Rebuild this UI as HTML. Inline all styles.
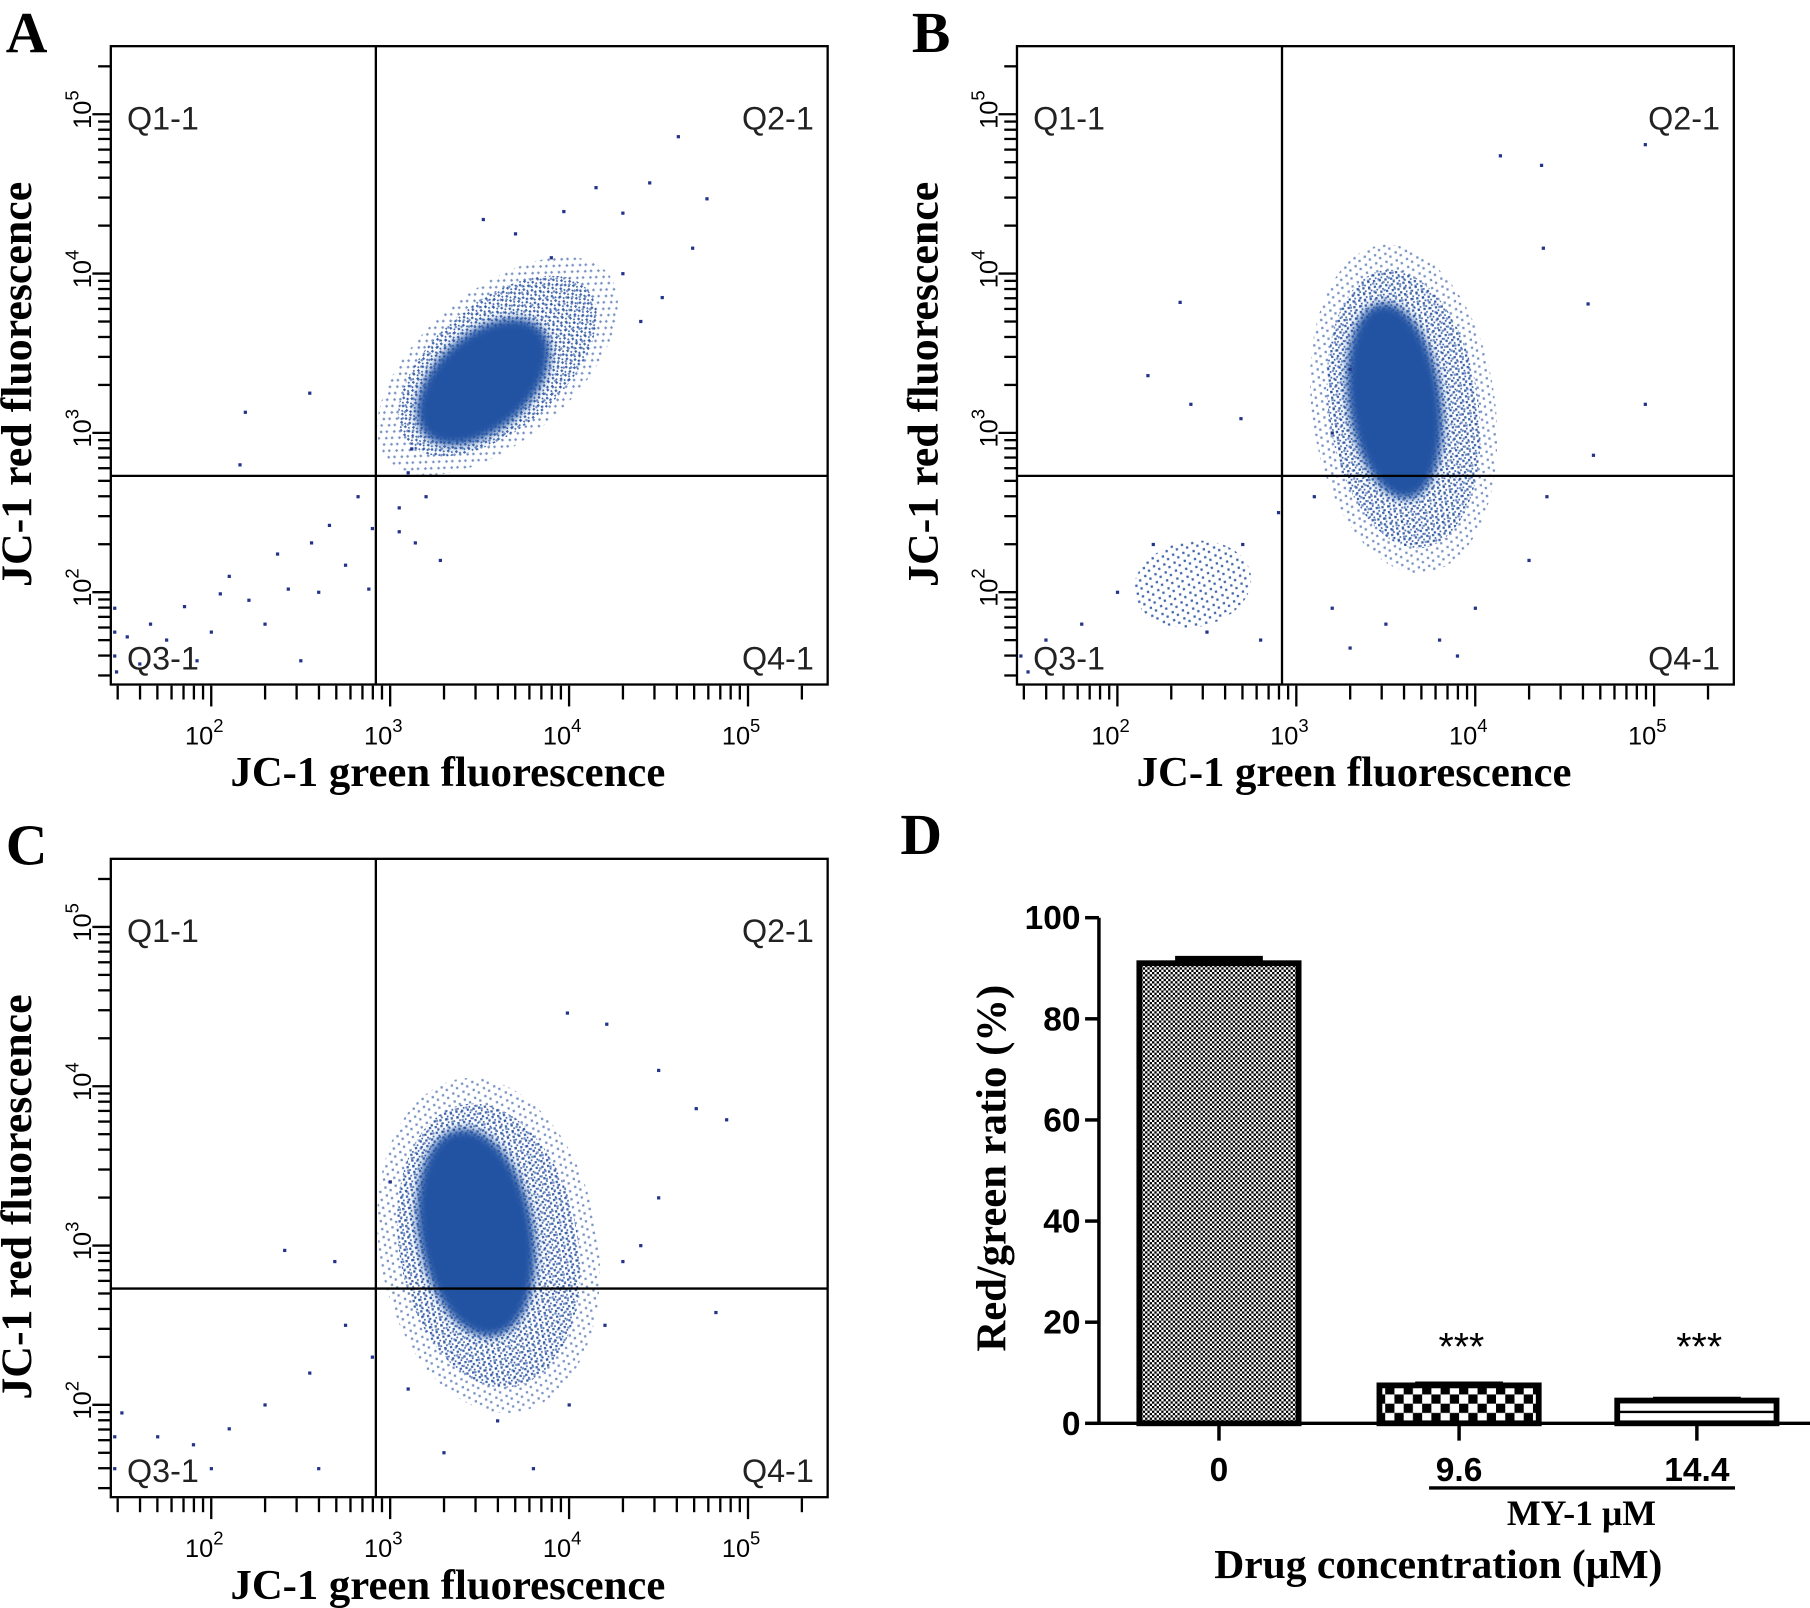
<!DOCTYPE html>
<html><head><meta charset="utf-8"><style>
html,body{margin:0;padding:0;background:#fff;}
svg{display:block;}
.serif{font-family:"Liberation Serif",serif;font-weight:bold;}
.sans{font-family:"Liberation Sans",sans-serif;}
</style></head><body>
<svg id="fig" width="1810" height="1608" viewBox="0 0 1568 1393" preserveAspectRatio="none" xmlns="http://www.w3.org/2000/svg">
<defs>
<pattern id="speck" width="5" height="5" patternUnits="userSpaceOnUse"><rect x="0" y="0" width="2" height="2" fill="#1d4a9c"/><rect x="2" y="3" width="1.5" height="1.5" fill="#1d4a9c"/></pattern>
<pattern id="speck2" width="9" height="7" patternUnits="userSpaceOnUse"><rect x="1" y="1" width="2" height="2" fill="#1d4a9c"/><rect x="5" y="4" width="2" height="2" fill="#1d4a9c"/></pattern>
<pattern id="fineCheck" width="4" height="4" patternUnits="userSpaceOnUse"><rect width="4" height="4" fill="#fff"/><rect width="2" height="2" fill="#000"/><rect x="2" y="2" width="2" height="2" fill="#000"/></pattern>
<pattern id="coarseCheck" width="16" height="16" patternUnits="userSpaceOnUse"><rect width="16" height="16" fill="#fff"/><rect width="8" height="8" fill="#000"/><rect x="8" y="8" width="8" height="8" fill="#000"/></pattern>
<filter id="soft"><feGaussianBlur stdDeviation="4"/></filter>
</defs>
</svg>
<script>
// ---------- Panel D data ----------
const barCategories = ["0", "9.6", "14.4"];
const barValues = [91, 7.5, 4.5];
const barErrors = [1, 0.3, 0.3];
const barSignif = ["", "***", "***"];
const barYTicks = [0, 20, 40, 60, 80, 100];

// ---------- Flow panel data (log10 units) ----------
const panelNames = ["A", "B", "C"];
const decadeTicks = [2, 3, 4, 5];
// cluster: [xLog, yLog, rxDecades, ryDecades, rotationDeg]
const coreA = [3.52, 3.32, 0.44, 0.3, -42];
const haloA = [3.6, 3.42, 0.66, 0.4, -40];
const coreB = [3.55, 3.2, 0.26, 0.62, -8];
const haloB = [3.6, 3.15, 0.42, 0.88, -8];
const lowB = [2.42, 2.05, 0.33, 0.27, -10];
const coreC = [3.48, 3.08, 0.32, 0.66, -10];
const haloC = [3.55, 3.0, 0.5, 0.9, -10];
const sparseA = [[4.61,4.86],[4.45,4.57],[4.15,4.54],[4.77,4.47],[3.97,4.39],[4.30,4.38],[3.52,4.34],[4.69,4.16],[4.52,3.85],[2.19,3.13],[2.16,2.80],[2.56,2.31],[2.75,2.17],[2.43,2.02],[2.21,1.95],[2.05,1.99],[1.85,1.91],[1.66,1.80],[1.53,1.72],[2.30,1.80],[2.50,1.57],[1.92,1.57],[2.88,2.02],[3.05,2.38],[3.14,2.31],[3.05,2.53],[2.82,2.60],[2.37,2.24],[2.66,2.42],[3.2,2.6],[3.28,2.2],[1.46,1.9],[1.46,1.75],[1.46,1.6],[1.47,1.5],[1.6,1.55],[1.75,1.7],[2.0,1.75],[2.1,2.1],[2.6,2.0],[2.9,2.4],[3.1,2.75],[3.12,2.9],[2.55,3.25],[3.7,4.25],[3.9,4.1],[4.3,4.0],[4.4,3.7]];
const sparseB = [[2.35,3.82],[2.17,3.36],[2.41,3.18],[2.69,3.09],[4.14,4.74],[4.37,4.68],[4.95,4.81],[4.95,3.18],[4.63,3.81],[4.38,4.16],[4.66,2.86],[3.3,3.4],[3.2,3.0],[3.1,2.6],[2.9,2.5],[2.7,2.3],[2.2,2.3],[2.0,2.0],[1.8,1.8],[1.6,1.7],[1.46,1.6],[1.5,1.5],[3.2,1.9],[3.5,1.8],[3.8,1.7],[4.0,1.9],[4.3,2.2],[4.4,2.6],[3.9,1.6],[3.3,1.65],[2.8,1.7],[2.5,1.75]];
const sparseC = [[3.99,4.46],[4.21,4.39],[4.71,3.86],[4.88,3.79],[4.50,4.10],[4.82,2.58],[2.41,2.97],[2.69,2.90],[1.5,1.95],[1.7,1.8],[1.9,1.75],[2.1,1.85],[2.3,2.0],[2.55,2.2],[2.75,2.5],[2.9,2.3],[2.0,1.6],[2.6,1.6],[3.1,2.1],[1.46,1.6],[1.46,1.8],[3.3,1.7],[3.6,1.9],[4.0,2.0],[4.2,2.5],[4.4,3.0],[4.5,3.3],[3.0,3.4],[3.8,1.6],[4.3,2.9]];
const quadX = 2.92;
const quadY = 2.73;

const NS = "http://www.w3.org/2000/svg";
const svg = document.getElementById("fig");
function mk(tag, attrs, parent) {
  const e = document.createElementNS(NS, tag);
  for (const k in attrs) e.setAttribute(k, attrs[k]);
  (parent || svg).appendChild(e);
  return e;
}
function fx(l) { return 183 + (l - 2) * 155; }
function fy(l) { return 513 - (l - 2) * 138; }
const offsets = [[0, 0], [785, 0], [0, 704]];
const clusterSets = [[haloA, coreA], [haloB, coreB, lowB], [haloC, coreC]];
const sparseSets = [sparseA, sparseB, sparseC];

panelNames.forEach((nm, pi) => {
  const [ox, oy] = offsets[pi];
  const g = mk("g", { transform: `translate(${ox},${oy})` });
  
  
  const clip = mk("clipPath", { id: "clip" + nm }, g);
  mk("rect", { x: 96, y: 40, width: 621, height: 553 }, clip);
  const dots = mk("g", { "clip-path": `url(#clip${nm})` }, g);
  
  
  clusterSets[pi].forEach((c, ci) => {
    const cx = fx(c[0]), cy = fy(c[1]);
    const rx = c[2] * 155, ry = c[3] * 138;
    if (ci === 0 || (pi === 1 && ci === 2)) {
      const h = mk("ellipse", { cx, cy, rx, ry, fill: ci === 0 ? "url(#speck)" : "url(#speck2)", opacity: 0.85, transform: `rotate(${c[4]} ${cx} ${cy})` }, dots);
      
      
      if (ci === 0) {
        const h2 = mk("ellipse", { cx, cy, rx: rx * 1.22, ry: ry * 1.18, fill: "url(#speck2)", opacity: 0.6, transform: `rotate(${c[4]} ${cx} ${cy})` }, dots);
        
        
      }
    } else {
      const k = mk("ellipse", { cx, cy, rx, ry, fill: "#2153a3", filter: "url(#soft)", transform: `rotate(${c[4]} ${cx} ${cy})` }, dots);
      
      
    }
  });
  sparseSets[pi].forEach(p => {
    const d = mk("rect", { x: fx(p[0]) - 1.3, y: fy(p[1]) - 1.3, width: 2.8, height: 2.8, fill: "#23338a" }, dots);
    
    
  });
  const box = mk("rect", { x: 96, y: 40, width: 621, height: 553, fill: "none", stroke: "#000", "stroke-width": 2 }, g);
  
  
  const qv = mk("line", { x1: fx(quadX), x2: fx(quadX), y1: 40, y2: 593, stroke: "#000", "stroke-width": 2 }, g);
  
  
  const qh = mk("line", { x1: 96, x2: 717, y1: fy(quadY), y2: fy(quadY), stroke: "#000", "stroke-width": 2 }, g);
  
  
  [["Q1-1", 110, 102, "start"], ["Q2-1", 705, 102, "end"], ["Q3-1", 110, 570, "start"], ["Q4-1", 705, 570, "end"]].forEach(q => {
    const t = mk("text", { x: q[1], y: q[2] + 10, "font-size": 28, "text-anchor": q[3], class: "sans", fill: "#222" }, g);
    t.textContent = q[0];
    
    
  });
  for (let d = 1; d <= 5; d++) {
    for (let m = 1; m <= 9; m++) {
      const l = d + Math.log10(m);
      const major = m === 1;
      const x = fx(l);
      if (x >= 98 && x <= 716) {
        const t = mk("line", { x1: x, x2: x, y1: 594, y2: major ? 612 : 606, stroke: "#000", "stroke-width": 2 }, g);
        
        
      }
      const y = fy(l);
      if (y >= 42 && y <= 592) {
        const t = mk("line", { x1: major ? 80 : 85, x2: 96, y1: y, y2: y, stroke: "#000", "stroke-width": 2 }, g);
        
        
      }
    }
  }
  decadeTicks.forEach(d => {
    const t = mk("text", { x: fx(d) - 6, y: 645, "font-size": 22, "text-anchor": "middle", class: "sans" }, g);
    t.innerHTML = `10<tspan dy="-11" font-size="16">${d}</tspan>`;
    
    
    const ty = mk("text", { x: 0, y: 0, "font-size": 22, "text-anchor": "middle", class: "sans", transform: `translate(79,${fy(d) - 4}) rotate(-90)` }, g);
    ty.innerHTML = `10<tspan dy="-11" font-size="16">${d}</tspan>`;
    
    
  });
  const xt = mk("text", { x: 388, y: 681, "font-size": 37, "text-anchor": "middle", class: "serif" }, g);
  xt.textContent = "JC-1 green fluorescence";
  
  
  const yt = mk("text", { x: 0, y: 0, "font-size": 38, "text-anchor": "middle", class: "serif", transform: "translate(27,333) rotate(-90)" }, g);
  yt.textContent = "JC-1 red fluorescence";
  
  
  const pl = mk("text", { x: 5, y: 45, "font-size": 50, class: "serif" }, g);
  pl.textContent = nm;
  
  
});

// ---------- Panel D ----------
const gD = mk("g", {});


function by(v) { return 1233 - v * 4.38; }
const barCenters = [1056, 1264, 1470];
const barFills = ["url(#fineCheck)", "url(#coarseCheck)", "#fff"];
barValues.forEach((v, i) => {
  const cx = barCenters[i];
  const eb = mk("g", {}, gD);
  
  
  mk("line", { x1: cx, x2: cx, y1: by(v), y2: by(v + barErrors[i]), stroke: "#000", "stroke-width": 4 }, eb);
  mk("line", { x1: cx - 38, x2: cx + 38, y1: by(v + barErrors[i]), y2: by(v + barErrors[i]), stroke: "#000", "stroke-width": 4 }, eb);
  const r = mk("rect", { x: cx - 69, y: by(v), width: 138, height: by(0) - by(v), fill: barFills[i], stroke: "#000", "stroke-width": 5 }, gD);
  
  
  if (i === 2) {
    const ml = mk("line", { x1: cx - 68, x2: cx + 68, y1: by(v / 2), y2: by(v / 2), stroke: "#000", "stroke-width": 2 }, gD);
    
    
  }
  if (barSignif[i]) {
    const s = mk("text", { x: cx + 2, y: 1178, "font-size": 34, "text-anchor": "middle", class: "sans" }, gD);
    s.textContent = barSignif[i];
    
    
  }
  const tk = mk("line", { x1: cx, x2: cx, y1: 1233, y2: 1248, stroke: "#000", "stroke-width": 3 }, gD);
  
  
  const tl = mk("text", { x: cx, y: 1283, "font-size": 29, "text-anchor": "middle", class: "sans", "font-weight": "bold" }, gD);
  tl.textContent = barCategories[i];
  
  
});
barYTicks.forEach(v => {
  const t = mk("line", { x1: 940, x2: 952, y1: by(v), y2: by(v), stroke: "#000", "stroke-width": 3 }, gD);
  
  
  const l = mk("text", { x: 936, y: by(v) + 10, "font-size": 29, "text-anchor": "end", class: "sans", "font-weight": "bold" }, gD);
  l.textContent = v;
  
  
});
const yAx = mk("line", { x1: 952, x2: 952, y1: by(100), y2: 1234.5, stroke: "#000", "stroke-width": 3 }, gD);


const xAx = mk("line", { x1: 950.5, x2: 1568, y1: 1233, y2: 1233, stroke: "#000", "stroke-width": 3 }, gD);


const grp = mk("line", { x1: 1238, x2: 1503, y1: 1289, y2: 1289, stroke: "#000", "stroke-width": 3 }, gD);


const my = mk("text", { x: 1370, y: 1321, "font-size": 31, "text-anchor": "middle", class: "serif" }, gD);
my.textContent = "MY-1 μM";


const dx = mk("text", { x: 1246, y: 1367, "font-size": 36, "text-anchor": "middle", class: "serif" }, gD);
dx.textContent = "Drug concentration (μM)";


const dy = mk("text", { x: 0, y: 0, "font-size": 37, "text-anchor": "middle", class: "serif", transform: "translate(871,1012) rotate(-90)" }, gD);
dy.textContent = "Red/green ratio (%)";


const dl = mk("text", { x: 780, y: 740, "font-size": 50, class: "serif" }, gD);
dl.textContent = "D";


</script>
</body></html>
